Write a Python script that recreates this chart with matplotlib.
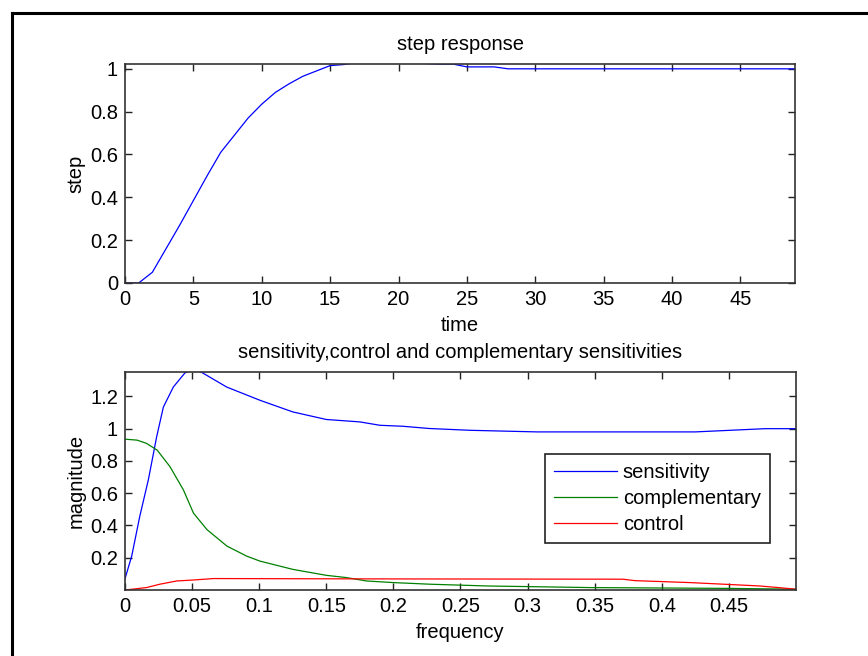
import matplotlib
matplotlib.use('Agg')
import matplotlib.pyplot as plt
from matplotlib.lines import Line2D
from matplotlib.ticker import FormatStrFormatter
import numpy as np

plt.rcParams['font.family'] = ['Liberation Sans', 'DejaVu Sans']
plt.rcParams['font.size'] = 14.5

# step response, sampled at integer times
t = list(range(0, 50))
step = [0, 0, 0.05, 0.16, 0.27, 0.385, 0.5, 0.61, 0.69, 0.77,
        0.835, 0.89, 0.93, 0.965, 0.99, 1.015, 1.02, 1.03, 1.035, 1.04,
        1.038, 1.033, 1.025, 1.022, 1.022, 1.009, 1.009, 1.009, 1.0, 1.0,
        1.0, 1.0, 1.0, 1.0, 1.0, 1.0, 1.0, 1.0, 1.0, 1.0,
        1.0, 1.0, 1.0, 1.0, 1.0, 1.0, 1.0, 1.0, 1.0, 1.0]

# sensitivities
f_sens = [0, 0.005, 0.011, 0.0174, 0.0236, 0.0286, 0.036, 0.0447, 0.052, 0.058,
          0.0758, 0.1006, 0.125, 0.15, 0.175, 0.19, 0.207, 0.227, 0.257, 0.307,
          0.425, 0.477, 0.5]
sens = [0.07, 0.21, 0.456, 0.683, 0.95, 1.134, 1.258, 1.346, 1.37, 1.345,
        1.258, 1.176, 1.104, 1.057, 1.042, 1.021, 1.015, 1.001, 0.99, 0.98,
        0.98, 1.0, 1.0]

f_comp = [0, 0.009, 0.016, 0.024, 0.0335, 0.0435, 0.051, 0.061, 0.076, 0.0907,
          0.1006, 0.125, 0.15, 0.165, 0.18, 0.2, 0.227, 0.27, 0.347, 0.45, 0.5]
comp = [0.935, 0.929, 0.909, 0.867, 0.765, 0.621, 0.477, 0.375, 0.272, 0.21,
        0.179, 0.128, 0.091, 0.077, 0.056, 0.046, 0.036, 0.025, 0.015, 0.01, 0.005]

f_ctrl = [0, 0.016, 0.026, 0.0385, 0.051, 0.066, 0.175, 0.371, 0.38, 0.421,
          0.446, 0.473, 0.487, 0.5]
ctrl = [0.0, 0.015, 0.036, 0.056, 0.062, 0.071, 0.069, 0.067, 0.058, 0.046,
        0.036, 0.025, 0.015, 0.005]

fig = plt.figure(figsize=(8.68, 6.56), dpi=100)

def style(ax):
    ax.tick_params(direction='in', length=5, width=1, top=True, right=True,
                   colors='#222222', labelcolor='black', pad=5)
    for s in ax.spines.values():
        s.set_color('#333333')
        s.set_linewidth(1.2)

ax1 = fig.add_axes([0.144, 0.5686, 0.772, 0.334])
ax1.plot(t, step, color='blue', lw=0.9)
ax1.set_xlim(0, 49)
ax1.set_ylim(0, 1.023)
ax1.set_xticks(np.arange(0, 50, 5))
ax1.set_yticks([0, 0.2, 0.4, 0.6, 0.8, 1])
ax1.xaxis.set_major_formatter(FormatStrFormatter('%g'))
ax1.yaxis.set_major_formatter(FormatStrFormatter('%g'))
ax1.set_title('step response', fontsize=14.5, pad=10)
ax1.set_xlabel('time', labelpad=5)
ax1.set_ylabel('step', labelpad=3)
style(ax1)

ax2 = fig.add_axes([0.144, 0.1006, 0.773, 0.332])
ax2.plot(f_sens, sens, color='blue', lw=0.9, label='sensitivity')
ax2.plot(f_comp, comp, color='#008000', lw=0.9, label='complementary')
ax2.plot(f_ctrl, ctrl, color='red', lw=0.9, label='control')
ax2.set_xlim(0, 0.5)
ax2.set_ylim(0, 1.35)
ax2.set_xticks(np.arange(0, 0.5, 0.05))
ax2.set_yticks([0.2, 0.4, 0.6, 0.8, 1, 1.2])
ax2.xaxis.set_major_formatter(FormatStrFormatter('%g'))
ax2.yaxis.set_major_formatter(FormatStrFormatter('%g'))
ax2.set_title('sensitivity,control and complementary sensitivities', fontsize=14.5, pad=10)
ax2.set_xlabel('frequency', labelpad=5)
ax2.set_ylabel('magnitude', labelpad=3)
style(ax2)
leg = ax2.legend(loc='upper right', bbox_to_anchor=(0.976, 0.671), fancybox=False,
                 edgecolor='#222222', framealpha=1, handlelength=3.1,
                 labelspacing=0.35, borderpad=0.45, handletextpad=0.3)
leg.get_frame().set_linewidth(1.2)

# window frame along top and left
fig.add_artist(Line2D([12 / 868, 1], [1 - 13 / 656, 1 - 13 / 656], color='black', lw=2.2))
fig.add_artist(Line2D([12 / 868, 12 / 868], [0, 1 - 13 / 656], color='black', lw=2.2))

fig.savefig('out.png', dpi=100)
